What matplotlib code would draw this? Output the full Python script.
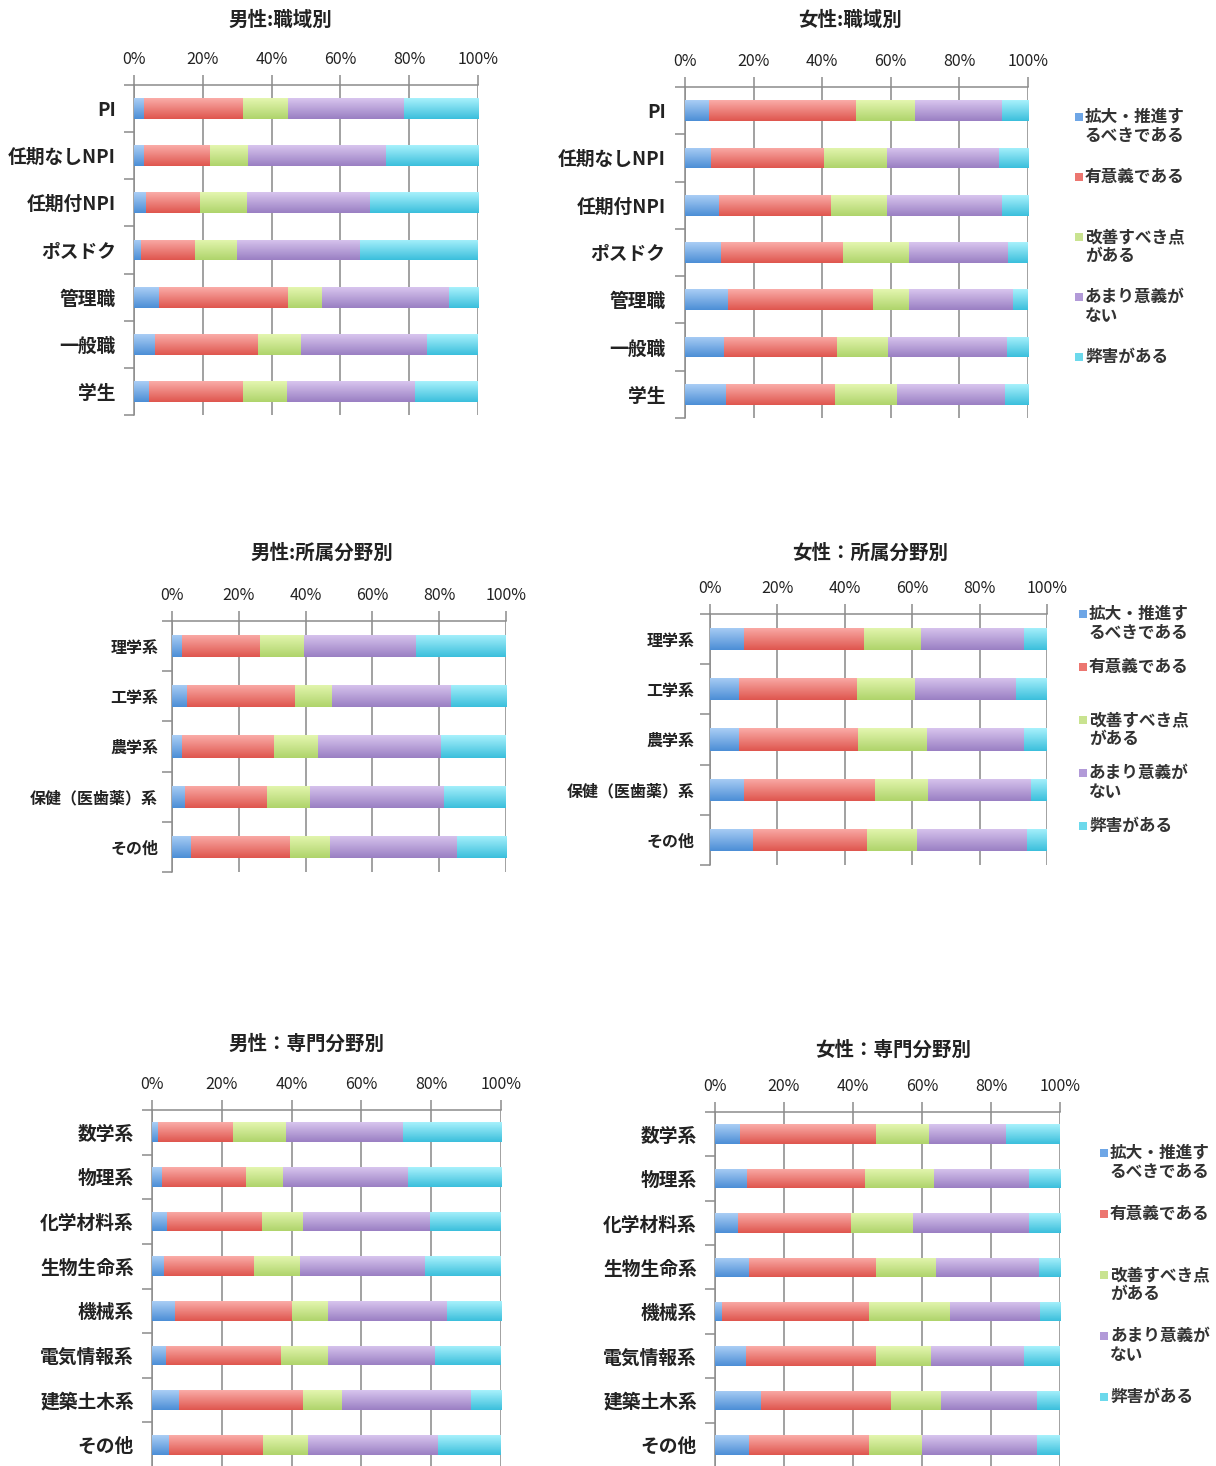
import numpy as np
import matplotlib
matplotlib.use("Agg")
import matplotlib.pyplot as plt
from matplotlib.colors import LinearSegmentedColormap
from matplotlib.patches import Rectangle

plt.rcParams['font.family'] = ['Noto Sans CJK JP', 'DejaVu Sans']

# Response categories (legend order, stacked left to right)
responses = ['拡大・推進す\nるべきである', '有意義である', '改善すべき点\nがある',
             'あまり意義が\nない', '弊害がある']

# --- 職域別 -------------------------------------------------------------
job_cats = ['PI', '任期なしNPI', '任期付NPI', 'ポスドク', '管理職', '一般職', '学生']
male_job = [
    [2.9, 2.9, 3.4, 2.0, 7.2, 6.2, 4.4],
    [28.9, 19.1, 15.8, 15.8, 37.7, 29.8, 27.4],
    [13.1, 11.1, 13.6, 12.1, 9.8, 12.6, 12.6],
    [33.5, 40.1, 35.8, 35.9, 36.8, 36.7, 37.3],
    [21.6, 26.8, 31.4, 34.2, 8.5, 14.7, 18.3],
]
female_job = [
    [7.1, 7.7, 10.0, 10.5, 12.6, 11.5, 11.9],
    [42.7, 32.7, 32.7, 35.5, 42.3, 32.8, 31.7],
    [17.3, 18.4, 16.1, 19.3, 10.4, 14.8, 18.3],
    [25.3, 32.6, 33.6, 29.0, 30.4, 34.7, 31.3],
    [7.6, 8.6, 7.6, 5.7, 4.3, 6.2, 6.8],
]

# --- 所属分野別 -----------------------------------------------------------
dept_cats = ['理学系', '工学系', '農学系', '保健（医歯薬）系', 'その他']
male_dept = [
    [3.0, 4.5, 3.0, 3.9, 5.8],
    [23.4, 32.3, 27.6, 24.4, 29.4],
    [13.1, 11.1, 13.0, 13.0, 12.2],
    [33.7, 35.5, 37.0, 40.2, 37.8],
    [26.8, 16.6, 19.4, 18.5, 14.8],
]
female_dept = [
    [10.2, 8.5, 8.5, 10.2, 12.9],
    [35.6, 35.0, 35.5, 38.8, 33.8],
    [16.9, 17.4, 20.3, 15.7, 14.6],
    [30.6, 30.0, 29.0, 30.6, 32.9],
    [6.7, 9.1, 6.7, 4.7, 5.8],
]

# --- 専門分野別 -----------------------------------------------------------
spec_cats = ['数学系', '物理系', '化学材料系', '生物生命系', '機械系', '電気情報系',
             '建築土木系', 'その他']
male_spec = [
    [1.6, 2.9, 4.3, 3.4, 6.6, 3.9, 7.6, 4.8],
    [21.6, 23.9, 27.2, 25.8, 33.6, 33.2, 35.8, 27.1],
    [15.1, 10.7, 11.9, 13.3, 10.1, 13.2, 11.0, 12.8],
    [33.5, 35.8, 36.3, 35.8, 34.1, 30.8, 36.9, 37.3],
    [28.2, 26.7, 20.3, 21.7, 15.6, 18.9, 8.7, 18.0],
]
female_spec = [
    [7.2, 9.4, 6.7, 10.0, 2.1, 9.0, 13.2, 10.0],
    [39.6, 34.2, 32.6, 36.8, 42.4, 37.8, 37.7, 34.5],
    [15.2, 20.0, 18.2, 17.2, 23.7, 15.7, 14.5, 15.4],
    [22.4, 27.4, 33.5, 29.8, 26.0, 27.1, 28.0, 33.5],
    [15.6, 9.0, 9.0, 6.2, 5.8, 10.4, 6.6, 6.6],
]

x_ticks = [0, 20, 40, 60, 80, 100]
x_tick_labels = ['0%', '20%', '40%', '60%', '80%', '100%']

# light (top) / dark (bottom) gradient ends and a flat legend swatch colour
grad_light = ['#AACEF5', '#FAACA8', '#E4F6B0', '#D8C5EE', '#A8F1FC']
grad_dark = ['#4C8ED6', '#DF564E', '#AFD46B', '#9A7FC3', '#3BBFDC']
swatch = ['#6EA6E6', '#EC7670', '#C9E390', '#B29AD8', '#6CD9EC']

W, H = 1216, 1466
fig = plt.figure(figsize=(W / 100, H / 100), dpi=100)
fig.patch.set_facecolor('white')


def px_axes(left, top, right, bottom):
    return fig.add_axes([left / W, 1 - bottom / H, (right - left) / W, (bottom - top) / H])


def draw_chart(box, cats, shares, title, title_xy, label_size, label_pad):
    ax = px_axes(*box)
    n = len(cats)
    y = np.arange(n)
    left = np.zeros(n)
    bar_h = 0.44
    for k, vals in enumerate(shares):
        vals = np.asarray(vals, dtype=float)
        bars = ax.barh(y, vals, left=left, height=bar_h, color=swatch[k],
                       edgecolor='none', zorder=3)
        cmap = LinearSegmentedColormap.from_list(f'g{k}', [grad_light[k], grad_dark[k]])
        grad = np.linspace(0, 1, 64).reshape(-1, 1)
        for b in bars:
            x0, yb, w, h = b.get_x(), b.get_y(), b.get_width(), b.get_height()
            im = ax.imshow(grad, cmap=cmap, aspect='auto', origin='upper',
                           extent=(x0, x0 + w, yb + h, yb), zorder=4,
                           interpolation='bilinear')
            im.set_clip_path(b)
        left = left + vals

    ax.set_xlim(0, 100)
    ax.set_ylim(n - 0.5, -0.5)
    ax.xaxis.tick_top()
    ax.set_xticks(x_ticks)
    ax.set_xticklabels(x_tick_labels, fontsize=11.5)
    ax.tick_params(axis='x', direction='out', length=7, width=1.1, color='#8C8C8C',
                   pad=5, labelcolor='#222222')
    ax.set_yticks(y)
    ax.set_yticklabels(cats, fontsize=label_size, fontweight='bold', color='#222222')
    ax.set_yticks(np.arange(n + 1) - 0.5, minor=True)
    ax.tick_params(axis='y', which='major', length=0, pad=label_pad)
    ax.tick_params(axis='y', which='minor', direction='out', length=7, width=1.1,
                   color='#8C8C8C')
    ax.grid(axis='x', color='#9A9A9A', linewidth=1.3, zorder=1)
    for s in ('right', 'bottom'):
        ax.spines[s].set_visible(False)
    for s in ('left', 'top'):
        ax.spines[s].set_color('#8C8C8C')
        ax.spines[s].set_linewidth(1.1)
    fig.text(title_xy[0] / W, 1 - title_xy[1] / H, title, ha='center', va='center',
             fontsize=14, fontweight='bold', color='#222222')
    return ax


def draw_legend(x, y0, step, size=12):
    for k, lab in enumerate(responses):
        yy = y0 + k * step
        fig.patches.append(Rectangle(((x) / W, 1 - (yy + 4) / H), 8 / W, 8 / H,
                                     transform=fig.transFigure, facecolor=swatch[k],
                                     edgecolor='none'))
        fig.text((x + 10) / W, 1 - (yy - 9) / H, lab, ha='left', va='top',
                 fontsize=size, fontweight='bold', color='#333333', linespacing=1.05)


draw_chart((134, 85, 478, 415), job_cats, male_job, '男性:職域別', (280, 20), 13.5, 13)
draw_chart((685, 87, 1028, 418), job_cats, female_job, '女性:職域別', (850, 20), 13.5, 14)
draw_chart((172, 621, 506, 872), dept_cats, male_dept, '男性:所属分野別', (322, 553), 11.5, 10)
draw_chart((710, 614, 1047, 865), dept_cats, female_dept, '女性：所属分野別', (870, 553), 11.5, 11)
draw_chart((152, 1110, 501, 1467), spec_cats, male_spec, '男性：専門分野別', (306, 1044), 13.5, 13)
draw_chart((715, 1112, 1060, 1467), spec_cats, female_spec, '女性：専門分野別', (893, 1050), 13.5, 13)

draw_legend(1075, 117, 60)
draw_legend(1079, 614, 53)
draw_legend(1100, 1153, 61)

fig.savefig('out.png', dpi=100)
